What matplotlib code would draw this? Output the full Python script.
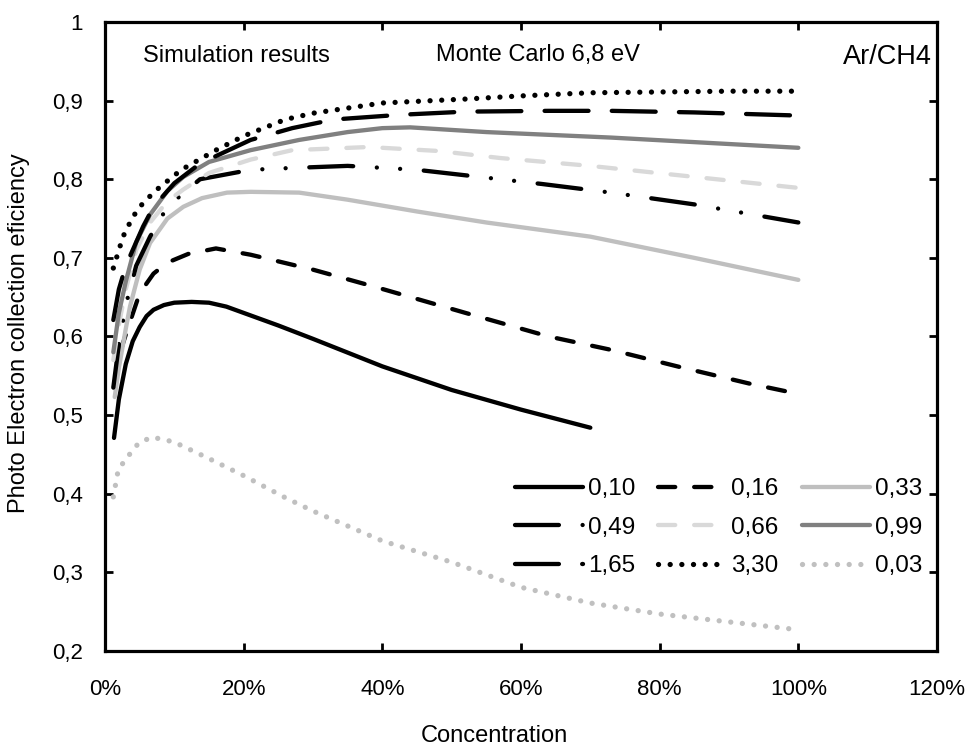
import matplotlib
matplotlib.use("Agg")
import matplotlib.pyplot as plt
from matplotlib.ticker import FuncFormatter, MultipleLocator

plt.rcParams["font.family"] = ["Liberation Sans", "DejaVu Sans"]

# concentration (%) and collection efficiency per curve, legend order
x_010 = [1.3, 2, 3, 4, 5, 6, 7, 8.5, 10, 12.5, 15, 17.5, 20, 25, 30, 40, 50, 60, 70]
y_010 = [0.471, 0.52, 0.565, 0.594, 0.612, 0.626, 0.634, 0.640, 0.643, 0.644, 0.643, 0.638, 0.630, 0.614, 0.597, 0.562, 0.532, 0.507, 0.484]

x_016 = [1.3, 2, 3.2, 5, 7, 9, 12, 16, 21, 30, 39, 52, 64, 73, 83, 93, 100]
y_016 = [0.536, 0.575, 0.608, 0.655, 0.680, 0.694, 0.705, 0.712, 0.704, 0.685, 0.663, 0.630, 0.600, 0.583, 0.561, 0.540, 0.527]

x_033 = [1.4, 2, 3, 3.6, 5, 6.5, 9, 11.3, 14, 17.6, 21, 28, 35, 45, 55, 70, 85, 100]
y_033 = [0.523, 0.56, 0.61, 0.638, 0.685, 0.719, 0.750, 0.765, 0.776, 0.783, 0.784, 0.783, 0.774, 0.759, 0.745, 0.727, 0.700, 0.672]

x_049 = [1.2, 2, 3, 4.5, 6.5, 9, 13.7, 21, 26, 35, 45, 55, 63, 73, 85, 100]
y_049 = [0.535, 0.59, 0.64, 0.69, 0.727, 0.765, 0.800, 0.812, 0.814, 0.817, 0.812, 0.802, 0.794, 0.783, 0.768, 0.745]

x_066 = [1.2, 2, 3, 4.5, 6.5, 9, 11.3, 15, 21, 27, 38, 48, 57, 70, 85, 100]
y_066 = [0.57, 0.615, 0.66, 0.71, 0.745, 0.772, 0.787, 0.808, 0.825, 0.837, 0.841, 0.836, 0.827, 0.817, 0.803, 0.789]

x_099 = [1.2, 2, 3, 4.5, 6.5, 9, 11.3, 15, 21, 28, 35, 40, 44, 55, 73, 100]
y_099 = [0.58, 0.63, 0.67, 0.72, 0.755, 0.785, 0.803, 0.822, 0.837, 0.850, 0.860, 0.865, 0.866, 0.860, 0.853, 0.840]

x_165 = [1.2, 2, 3, 4, 5.5, 7, 10, 13.7, 21, 27, 33, 42.6, 52, 64, 73, 85, 100]
y_165 = [0.621, 0.66, 0.69, 0.71, 0.74, 0.765, 0.795, 0.820, 0.850, 0.865, 0.876, 0.882, 0.886, 0.887, 0.887, 0.885, 0.881]

x_330 = [1.2, 2.6, 4, 5.5, 7.5, 11, 16, 20, 26, 30, 40, 52, 60, 70, 80, 90, 99.3]
y_330 = [0.687, 0.727, 0.752, 0.770, 0.787, 0.812, 0.837, 0.855, 0.876, 0.884, 0.897, 0.902, 0.906, 0.910, 0.911, 0.912, 0.912]

x_003 = [1.2, 1.9, 2.9, 4.9, 6.8, 9.9, 14.7, 20, 26, 30, 40, 50, 60, 70, 80, 90, 99]
y_003 = [0.396, 0.430, 0.443, 0.465, 0.472, 0.466, 0.446, 0.423, 0.395, 0.378, 0.340, 0.313, 0.281, 0.261, 0.247, 0.237, 0.228]

labels = ["0,10", "0,16", "0,33", "0,49", "0,66", "0,99", "1,65", "3,30", "0,03"]
xs = [x_010, x_016, x_033, x_049, x_066, x_099, x_165, x_330, x_003]
ys = [y_010, y_016, y_033, y_049, y_066, y_099, y_165, y_330, y_003]

LW = 3.1
styles = [
    dict(color="black", ls="-"),
    dict(color="black", ls=(0, (4.0, 4.4)), dash_capstyle="round"),
    dict(color="#bfbfbf", ls="-"),
    dict(color="black", ls=(0, (10.2, 5.5, 0.01, 5.4, 0.01, 5.5)), dash_capstyle="round"),
    dict(color="#d9d9d9", ls=(0, (4.0, 4.4)), dash_capstyle="round"),
    dict(color="#808080", ls="-"),
    dict(color="black", ls=(0, (10.2, 5.4)), dash_capstyle="round"),
    dict(color="black", ls=(0, (0.01, 2.2)), dash_capstyle="round", lw=3.8),
    dict(color="#c0c0c0", ls=(0, (0.01, 2.2)), dash_capstyle="round", lw=3.8),
]

fig = plt.figure(figsize=(9.69, 7.47), dpi=100)
ax = fig.add_axes([105 / 969, 1 - 651 / 747, 832 / 969, 629 / 747])

handles = []
for x, y, lab, st in zip(xs, ys, labels, styles):
    st = dict(st)
    lw = st.pop("lw", LW)
    h, = ax.plot(x, y, lw=lw, label=lab, solid_capstyle="round", **st)
    handles.append(h)

ax.set_xlim(0, 120)
ax.set_ylim(0.2, 1.0)
ax.xaxis.set_major_locator(MultipleLocator(20))
ax.yaxis.set_major_locator(MultipleLocator(0.1))
ax.xaxis.set_major_formatter(FuncFormatter(lambda v, p: f"{v:.0f}%"))
ax.yaxis.set_major_formatter(FuncFormatter(
    lambda v, p: "1" if abs(v - 1) < 1e-9 else f"{v:.1f}".replace(".", ",")))

for s in ax.spines.values():
    s.set_linewidth(2.3)
ax.tick_params(direction="in", length=6, width=2, top=True, right=True,
               labelsize=16)
ax.tick_params(axis="x", pad=20)
ax.tick_params(axis="y", pad=16)

ax.set_xlabel("Concentration", fontsize=17)
ax.xaxis.set_label_coords(0.4675, -0.118)
ax.set_ylabel("Photo Electron collection eficiency", fontsize=17)
ax.yaxis.set_label_coords(-0.09, 0.505)

ax.text(19.0, 0.957, "Simulation results", fontsize=17, ha="center", va="center")
ax.text(62.5, 0.958, "Monte Carlo 6,8 eV", fontsize=17, ha="center", va="center")
ax.text(112.8, 0.955, "Ar/CH4", fontsize=19.5, ha="center", va="center")

# legend fills column-wise, so reorder to read row by row
order = [0, 3, 6, 1, 4, 7, 2, 5, 8]
ax.legend([handles[i] for i in order], [labels[i] for i in order],
          ncol=3, frameon=False, fontsize=17.5, loc="upper left",
          bbox_to_anchor=((515 - 105) / 832, (651 - 478) / 629),
          borderaxespad=0, borderpad=0, handlelength=2.8,
          handletextpad=0.2, columnspacing=0.95, labelspacing=0.68)

fig.savefig("out.png", dpi=100, facecolor="white")
